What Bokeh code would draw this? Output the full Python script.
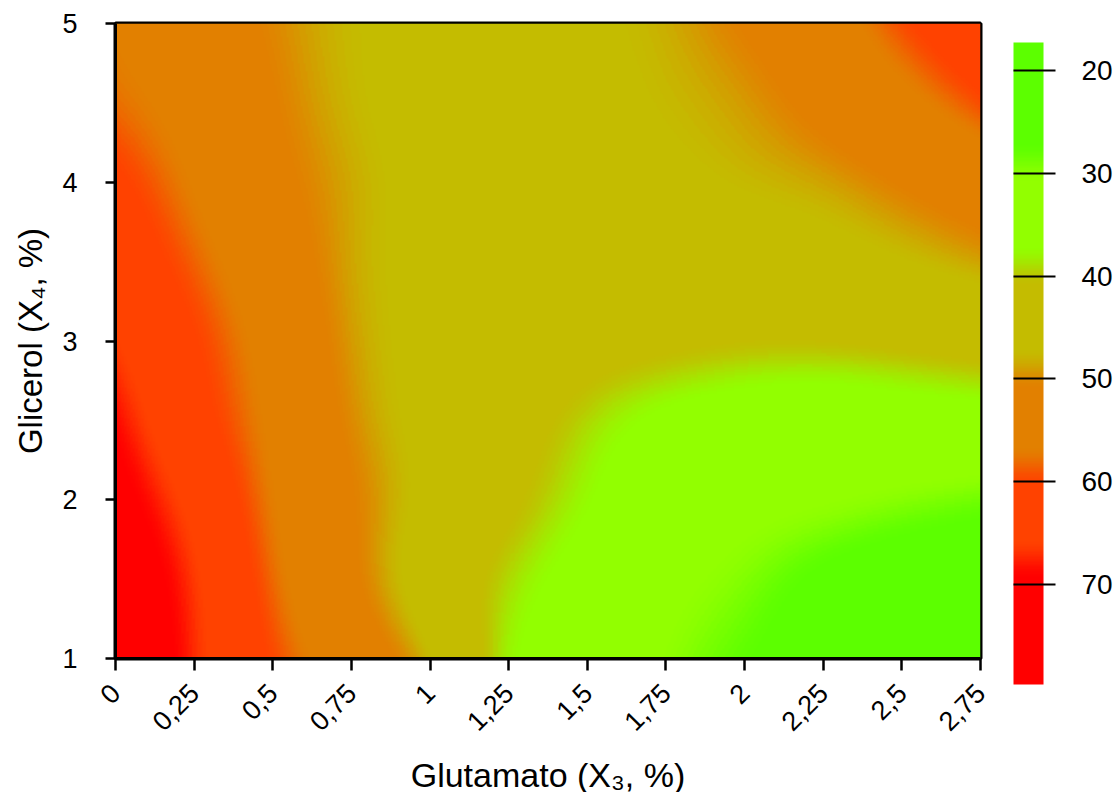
import numpy as np
from bokeh.plotting import figure
from bokeh.models import LinearColorMapper, FixedTicker, Range1d, ColorBar, AllLabels
from bokeh.embed import file_html
from bokeh.resources import INLINE

# ---------------- data ----------------
glutamato = [0.0, 0.25, 0.5, 0.75, 1.0, 1.25, 1.5, 1.75, 2.0, 2.25, 2.5, 2.75]
glutamato_labels = ["0", "0,25", "0,5", "0,75", "1", "1,25", "1,5", "1,75",
                    "2", "2,25", "2,5", "2,75"]
glicerol = [1.0, 1.5, 2.0, 2.5, 3.0, 3.5, 4.0, 4.5, 5.0]
glicerol_ticks = [1, 2, 3, 4, 5]

# response value at each glicerol level (rows), along glutamato (columns)
resp_glic_1_0 = [76.0, 67.2, 59.8, 53.8, 47.5, 38.0, 34.5, 30.6, 27.5, 24.5, 22.5, 21.5]
resp_glic_1_5 = [73.5, 66.5, 58.2, 51.5, 45.0, 39.2, 35.5, 32.0, 29.5, 26.5, 24.5, 23.5]
resp_glic_2_0 = [71.0, 64.5, 57.0, 51.0, 46.0, 41.5, 37.5, 34.0, 32.0, 31.0, 29.8, 28.7]
resp_glic_2_5 = [68.7, 62.0, 56.0, 50.0, 46.0, 42.8, 39.3, 36.5, 35.0, 34.5, 35.0, 35.5]
resp_glic_3_0 = [66.0, 60.5, 55.0, 49.2, 46.0, 44.0, 42.5, 41.5, 40.8, 40.8, 41.5, 42.5]
resp_glic_3_5 = [63.5, 58.5, 53.5, 48.7, 46.0, 44.5, 44.0, 44.0, 44.5, 45.5, 47.0, 48.8]
resp_glic_4_0 = [61.0, 56.5, 52.0, 48.5, 46.0, 45.0, 45.2, 46.2, 47.5, 48.8, 51.0, 53.5]
resp_glic_4_5 = [58.0, 55.0, 51.0, 47.8, 45.8, 45.3, 46.0, 47.5, 49.2, 52.0, 55.5, 59.5]
resp_glic_5_0 = [56.5, 53.5, 50.2, 47.5, 46.0, 45.5, 46.5, 48.3, 51.0, 54.5, 59.5, 64.0]

colorbar_ticks = [20, 30, 40, 50, 60, 70]
scale_low, scale_high = 17.3, 79.7

# ---------------- colour scale (stepped bands with soft edges) ----------------
band_rgb = [(92, 255, 0), (146, 255, 0), (196, 188, 0),
            (226, 128, 0), (255, 66, 0), (255, 0, 0)]
band_edges = [29.0, 39.0, 49.0, 58.5, 67.5]
half_w = 2.0


def rgb_at(v):
    c = np.array(band_rgb[0], float)
    for i, e in enumerate(band_edges):
        t = min(max((v - (e - half_w)) / (2 * half_w), 0.0), 1.0)
        t = t * t * (3 - 2 * t)
        c = c + t * (np.array(band_rgb[i + 1], float) - np.array(band_rgb[i], float))
    return "#%02x%02x%02x" % tuple(int(round(x)) for x in c)


n_pal = 256
pal_edges = np.linspace(scale_low, scale_high, n_pal + 1)
pal_centers = 0.5 * (pal_edges[:-1] + pal_edges[1:])
palette = [rgb_at(v) for v in pal_centers]
mapper = LinearColorMapper(palette=palette, low=scale_low, high=scale_high)


# ---------------- smooth rendering of the grid (natural cubic spline) ----------------
def natural_spline(xk, yk, xq):
    xk = np.asarray(xk, float)
    yk = np.asarray(yk, float)
    n = len(xk)
    h = np.diff(xk)
    A = np.zeros((n, n))
    r = np.zeros(n)
    A[0, 0] = A[-1, -1] = 1.0
    for i in range(1, n - 1):
        A[i, i - 1] = h[i - 1]
        A[i, i] = 2 * (h[i - 1] + h[i])
        A[i, i + 1] = h[i]
        r[i] = 3 * ((yk[i + 1] - yk[i]) / h[i] - (yk[i] - yk[i - 1]) / h[i - 1])
    c = np.linalg.solve(A, r)
    b = (yk[1:] - yk[:-1]) / h - h * (2 * c[:-1] + c[1:]) / 3
    d = (c[1:] - c[:-1]) / (3 * h)
    idx = np.clip(np.searchsorted(xk, xq) - 1, 0, n - 2)
    dx = xq - xk[idx]
    return yk[idx] + b[idx] * dx + c[idx] * dx ** 2 + d[idx] * dx ** 3


Z = np.array([resp_glic_1_0, resp_glic_1_5, resp_glic_2_0, resp_glic_2_5,
              resp_glic_3_0, resp_glic_3_5, resp_glic_4_0, resp_glic_4_5,
              resp_glic_5_0])
x0, x1 = glutamato[0], glutamato[-1]
y0, y1 = glicerol[0], glicerol[-1]
nx, ny = 560, 400
xf = x0 + (np.arange(nx) + 0.5) / nx * (x1 - x0)
yf = y0 + (np.arange(ny) + 0.5) / ny * (y1 - y0)
tmp = np.array([natural_spline(glutamato, r, xf) for r in Z])
fine = np.array([natural_spline(glicerol, tmp[:, j], yf) for j in range(nx)]).T

FONT = "Liberation Sans"

p = figure(x_range=Range1d(x0, x1), y_range=Range1d(y0, y1),
           frame_width=865, frame_height=635,
           min_border_left=115, min_border_right=135,
           min_border_top=23, min_border_bottom=134,
           output_backend="svg", toolbar_location=None,
           background_fill_color="white", border_fill_color="white")
p.image(image=[fine], x=x0, y=y0, dw=x1 - x0, dh=y1 - y0, color_mapper=mapper)

p.grid.visible = False
p.outline_line_color = "black"
p.outline_line_width = 4

p.xaxis.ticker = FixedTicker(ticks=glutamato)
p.xaxis.major_label_overrides = {t: lab for t, lab in zip(glutamato, glutamato_labels)}
p.xaxis.major_label_orientation = np.pi / 4
p.yaxis.ticker = FixedTicker(ticks=glicerol_ticks)

for ax in (p.xaxis, p.yaxis):
    ax.axis_line_color = "black"
    ax.axis_line_width = 3
    ax.major_tick_line_color = "black"
    ax.major_tick_line_width = 2.5
    ax.major_tick_in = 0
    ax.minor_tick_line_color = None
    ax.major_label_text_font = FONT
    ax.major_label_text_font_size = "27px"
    ax.major_label_text_color = "black"
    ax.axis_label_text_font = FONT
    ax.axis_label_text_font_style = "normal"
    ax.axis_label_text_color = "black"

p.xaxis.axis_label_text_font_size = "34px"
p.yaxis.axis_label_text_font_size = "33px"
p.xaxis.major_tick_out = 12
p.yaxis.major_tick_out = 10
p.xaxis.major_label_standoff = 18
p.yaxis.major_label_standoff = 28
p.xaxis.axis_label = "Glutamato (X\u2083, %)"
p.yaxis.axis_label = "Glicerol (X\u2084, %)"
p.xaxis.axis_label_standoff = 14
p.yaxis.axis_label_standoff = 10

# ---------------- colour bar: 20 at the top, 80 at the bottom ----------------
# (the bar's scale is negated so that low values sit at the top; labels show the true values)
cb_mapper = LinearColorMapper(palette=palette[::-1], low=-scale_high, high=-scale_low)
color_bar = ColorBar(
    color_mapper=cb_mapper, orientation="vertical", width=30, height=642,
    ticker=FixedTicker(ticks=[-t for t in colorbar_ticks]),
    major_label_overrides={-t: str(t) for t in colorbar_ticks},
    major_label_policy=AllLabels(),
    major_tick_in=30, major_tick_out=12,
    major_tick_line_color="black", major_tick_line_width=2,
    minor_tick_line_color=None,
    label_standoff=26,
    major_label_text_font=FONT, major_label_text_font_size="28px",
    major_label_text_color="black",
    bar_line_color=None, border_line_color=None, background_fill_color=None,
    padding=0, margin=0, location=(33, -26))
p.add_layout(color_bar, "right")

open("out.html", "w").write(file_html(p, INLINE))
